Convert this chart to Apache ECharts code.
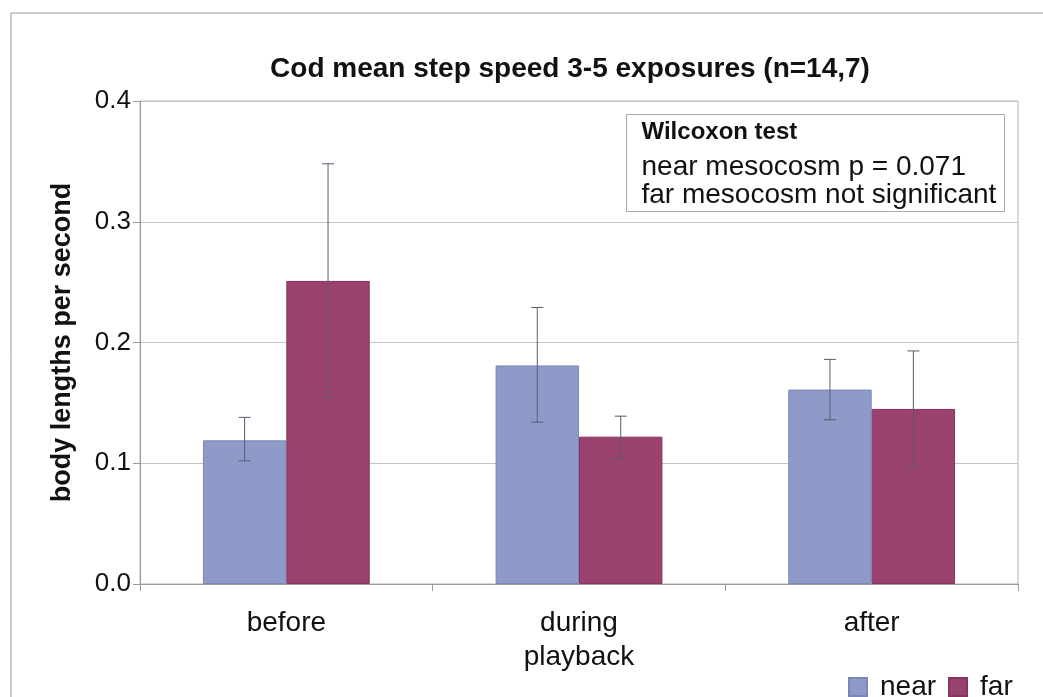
<!DOCTYPE html>
<html>
<head>
<meta charset="utf-8">
<script src="https://cdn.jsdelivr.net/npm/echarts@6/dist/echarts.min.js"></script>
<style>
  html, body { margin: 0; padding: 0; background: #fff; }
  #chart { width: 1043px; height: 697px; }
</style>
</head>
<body>
<div id="chart"></div>
<script>
  // values
  var categories = ["before", "during\nplayback", "after"];
  var nearMean = [0.119, 0.181, 0.161];
  var farMean = [0.251, 0.122, 0.145];
  var nearLow = [0.102, 0.134, 0.136];
  var nearHigh = [0.138, 0.229, 0.186];
  var farLow = [0.155, 0.104, 0.097];
  var farHigh = [0.348, 0.139, 0.193];
  var yTicks = [0, 0.1, 0.2, 0.3, 0.4];

  var nearColor = "#8e9ac8";
  var farColor = "#99416f";
  var font = "Liberation Sans, Arial, sans-serif";
  var groupFill = 0.57; // share of a category taken by the two bars

  function errorSeries(low, high, side) {
    var data = low.map(function (v, i) { return [i, v, high[i]]; });
    return {
      type: "custom",
      z: 5,
      silent: true,
      data: data,
      encode: { x: 0, y: [1, 2] },
      renderItem: function (params, api) {
        var band = api.size([1, 0])[0];
        var off = side * band * groupFill / 4;
        var lo = api.coord([api.value(0), api.value(1)]);
        var hi = api.coord([api.value(0), api.value(2)]);
        var x = lo[0] + off;
        var cap = 6;
        var st = { stroke: "#5a5a6e", lineWidth: 1 };
        return {
          type: "group",
          children: [
            { type: "line", shape: { x1: x, y1: lo[1], x2: x, y2: hi[1] }, style: st },
            { type: "line", shape: { x1: x - cap, y1: lo[1], x2: x + cap, y2: lo[1] }, style: st },
            { type: "line", shape: { x1: x - cap, y1: hi[1], x2: x + cap, y2: hi[1] }, style: st }
          ]
        };
      }
    };
  }

  var chart = echarts.init(document.getElementById("chart"));
  chart.setOption({
    animation: false,
    backgroundColor: "#fff",
    textStyle: { fontFamily: font },
    title: {
      text: "Cod mean step speed 3-5 exposures (n=14,7)",
      left: 565,
      textAlign: "center",
      top: 50,
      textStyle: { fontFamily: font, fontSize: 28, fontWeight: "bold", color: "#111" }
    },
    legend: {
      data: ["near", "far"],
      left: 843,
      top: 668,
      icon: "rect",
      itemWidth: 18,
      itemHeight: 18,
      itemGap: 12,
      textStyle: { fontFamily: font, fontSize: 28, color: "#111", padding: [0, 0, 0, 8] }
    },
    grid: { left: 140, right: 25, top: 101, bottom: 113, show: true, borderColor: "#b4b4b4", borderWidth: 1 },
    xAxis: {
      type: "category",
      data: categories,
      axisLine: { lineStyle: { color: "#9a9a9a" } },
      axisTick: { show: true, alignWithLabel: false, length: 7, lineStyle: { color: "#9a9a9a" } },
      axisLabel: { fontFamily: font, fontSize: 28, color: "#111", margin: 22, lineHeight: 34 }
    },
    yAxis: {
      type: "value",
      min: 0,
      max: yTicks[yTicks.length - 1],
      interval: 0.1,
      name: "body lengths per second",
      nameLocation: "middle",
      nameGap: 64,
      nameTextStyle: { fontFamily: font, fontSize: 27, fontWeight: "bold", color: "#111" },
      axisLine: { show: true, lineStyle: { color: "#9a9a9a" } },
      axisTick: { show: true, length: 7, lineStyle: { color: "#9a9a9a" } },
      axisLabel: {
        fontFamily: font, fontSize: 26, color: "#111", margin: 9,
        formatter: function (v) { return v.toFixed(1); }
      },
      splitLine: { lineStyle: { color: "#c4c4c4" } }
    },
    graphic: [
      {
        type: "rect",
        shape: { x: 11, y: 13, width: 1040, height: 700 },
        style: { fill: null, stroke: "#9a9a9a", lineWidth: 1 },
        silent: true
      },
      {
        type: "group",
        left: 626,
        top: 114,
        children: [
          { type: "rect", shape: { x: 0, y: 0, width: 378, height: 97 }, style: { fill: "#fff", stroke: "#a8a8a8", lineWidth: 1 } },
          { type: "text", x: 15, y: 18, style: { text: "Wilcoxon test", font: "bold 24px " + font, fill: "#111", verticalAlign: "middle" } },
          { type: "text", x: 15, y: 53, style: { text: "near mesocosm p = 0.071", font: "28px " + font, fill: "#111", verticalAlign: "middle" } },
          { type: "text", x: 15, y: 81, style: { text: "far mesocosm not significant", font: "28px " + font, fill: "#111", verticalAlign: "middle" } }
        ]
      }
    ],
    series: [
      {
        name: "near",
        type: "bar",
        data: nearMean,
        barGap: "0%",
        barCategoryGap: "43%",
        itemStyle: { color: nearColor, borderColor: "#7a86b8", borderWidth: 1 }
      },
      {
        name: "far",
        type: "bar",
        data: farMean,
        itemStyle: { color: farColor, borderColor: "#86345f", borderWidth: 1 }
      },
      errorSeries(nearLow, nearHigh, -1),
      errorSeries(farLow, farHigh, 1)
    ]
  });
</script>
</body>
</html>
